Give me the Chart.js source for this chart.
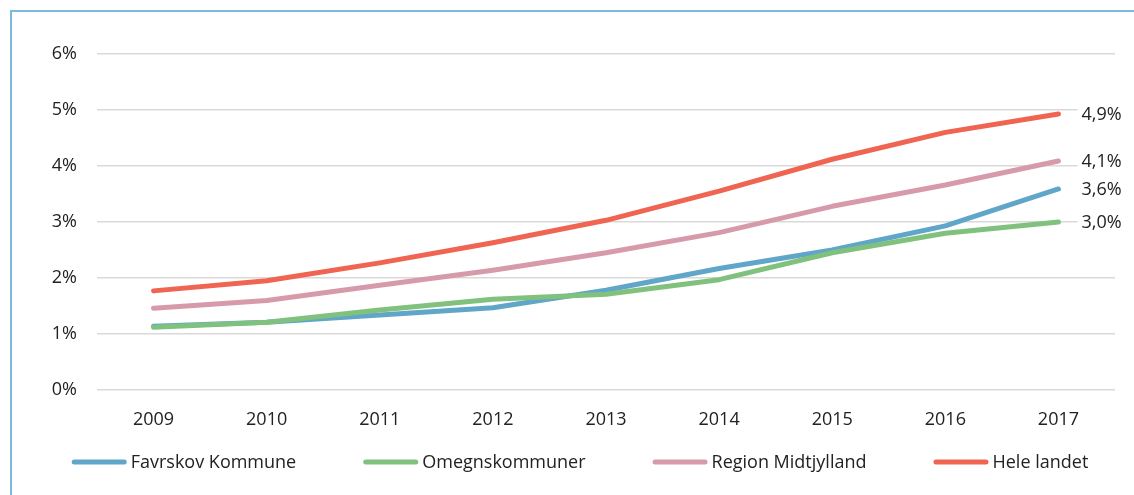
<!DOCTYPE html>
<html>
<head>
<meta charset="utf-8">
<script src="https://cdn.jsdelivr.net/npm/chart.js@4.4.1/dist/chart.umd.min.js"></script>
<style>
  html, body { margin: 0; padding: 0; background: #fff; overflow: hidden; }
  #frame { position: absolute; left: 10px; top: 10px; width: 1200px; height: 600px; border: 2px solid #7db9de; }
  #chart { position: absolute; left: 0; top: 0; }
</style>
</head>
<body>
<div id="frame"></div>
<canvas id="chart" width="1134" height="495"></canvas>
<script>
// Andel (%) pr. år
const years = ['2009', '2010', '2011', '2012', '2013', '2014', '2015', '2016', '2017'];
const favrskov = [1.14, 1.21, 1.34, 1.47, 1.78, 2.17, 2.50, 2.93, 3.59];
const omegn = [1.12, 1.21, 1.43, 1.62, 1.71, 1.97, 2.45, 2.80, 3.00];
const region = [1.46, 1.60, 1.87, 2.14, 2.45, 2.81, 3.28, 3.66, 4.09];
const heleLandet = [1.77, 1.95, 2.27, 2.63, 3.03, 3.55, 4.12, 4.60, 4.93];
const yTicks = [0, 1, 2, 3, 4, 5, 6];

const seriesNames = ['Favrskov Kommune', 'Omegnskommuner', 'Region Midtjylland', 'Hele landet'];
const seriesColors = ['#60a6c9', '#80c17e', '#d69aab', '#ef6552'];
const seriesData = [favrskov, omegn, region, heleLandet];

Chart.defaults.font.family = '"Open Sans", sans-serif';
Chart.defaults.font.size = 18;
Chart.defaults.color = '#222';

function fmtPct(v) {
    return v.toFixed(1).replace('.', ',') + '%';
}

// Værdi ved sidste punkt i hver serie
const endLabels = {
    id: 'endLabels',
    afterDatasetsDraw(chart) {
        const ctx = chart.ctx;
        ctx.save();
        ctx.font = '18px "Open Sans", sans-serif';
        ctx.textBaseline = 'middle';
        ctx.textAlign = 'left';
        chart.data.datasets.forEach((ds, i) => {
            const last = ds.data.length - 1;
            const pt = chart.getDatasetMeta(i).data[last];
            const text = fmtPct(ds.data[last]);
            const x = pt.x + 23;
            const w = ctx.measureText(text).width;
            ctx.fillStyle = '#fff';
            ctx.fillRect(x - 4, pt.y - 11, w + 8, 22);
            ctx.fillStyle = '#222';
            ctx.fillText(text, x, pt.y + 1);
        });
        ctx.restore();
    }
};

// Forklaring nederst med linjestykker
const lineLegend = {
    id: 'lineLegend',
    afterDraw(chart) {
        const ctx = chart.ctx;
        ctx.save();
        ctx.font = '18px "Open Sans", sans-serif';
        const lineLen = 55, gap = 4, spacing = 67;
        const items = chart.data.datasets.map(ds => ({ ds: ds, w: ctx.measureText(ds.label).width }));
        const total = items.reduce((s, it) => s + lineLen + gap + it.w, 0) + spacing * (items.length - 1);
        let x = chart.width / 2 + 13 - total / 2;
        const y = 462;
        items.forEach(it => {
            ctx.strokeStyle = it.ds.borderColor;
            ctx.lineWidth = 5;
            ctx.lineCap = 'round';
            ctx.beginPath();
            ctx.moveTo(x + 2.5, y);
            ctx.lineTo(x + lineLen - 2.5, y);
            ctx.stroke();
            ctx.fillStyle = '#222';
            ctx.textBaseline = 'middle';
            ctx.fillText(it.ds.label, x + lineLen + gap, y + 1);
            x += lineLen + gap + it.w + spacing;
        });
        ctx.restore();
    }
};

const datasets = seriesData.map((d, i) => ({
    label: seriesNames[i],
    data: d,
    borderColor: seriesColors[i],
    backgroundColor: seriesColors[i],
    borderWidth: 5,
    borderCapStyle: 'round',
    borderJoinStyle: 'round',
    pointRadius: 0,
    tension: 0,
    order: seriesData.length - i
}));

new Chart(document.getElementById('chart').getContext('2d'), {
    type: 'line',
    data: { labels: years, datasets: datasets },
    options: {
        responsive: false,
        animation: false,
        layout: { padding: { left: 0, right: 19, top: 54, bottom: 65 } },
        plugins: {
            legend: { display: false },
            tooltip: { enabled: false }
        },
        scales: {
            x: {
                offset: true,
                grid: { display: false },
                border: { display: false },
                ticks: { padding: 11, maxRotation: 0 },
                afterFit(scale) { scale.height = 40; }
            },
            y: {
                min: yTicks[0],
                max: yTicks[yTicks.length - 1],
                afterBuildTicks(scale) { scale.ticks = yTicks.map(v => ({ value: v })); },
                grid: { color: '#d9d9d9', lineWidth: 1.5, drawTicks: false },
                border: { display: false },
                ticks: { padding: 20, callback: v => v + '%' },
                afterFit(scale) { scale.width = 97; }
            }
        }
    },
    plugins: [endLabels, lineLegend]
});
</script>
</body>
</html>
